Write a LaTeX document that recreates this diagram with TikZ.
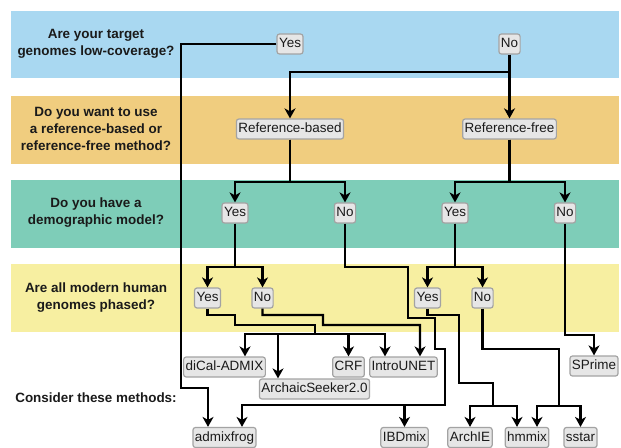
\documentclass[tikz,border=0pt]{standalone}
\usepackage{fontspec}
\setmainfont{Liberation Sans}
\usetikzlibrary{arrows.meta}
\definecolor{bandblue}{HTML}{A9D8F1}
\definecolor{bandorange}{HTML}{F0CD7F}
\definecolor{bandteal}{HTML}{7ECDB8}
\definecolor{bandyellow}{HTML}{F7EFA1}
\definecolor{boxfill}{HTML}{E6E6E6}
\definecolor{boxline}{HTML}{A3A3A3}
\definecolor{ink}{HTML}{1A1A1A}

\begin{document}
\begin{tikzpicture}[x=1bp,y=-1bp,
    opt/.style={draw=boxline,fill=boxfill,line width=1.2bp,rounded corners=2.5bp,
      inner xsep=2bp,inner ysep=0bp,minimum height=20bp,text height=9.8bp,text depth=2.8bp,
      font=\fontsize{13.5}{16}\selectfont,text=ink},
    question/.style={align=center,font=\fontsize{13.5}{17}\selectfont\bfseries,text=ink},
    wire/.style={line width=2.4bp},
    link/.style={wire,-{Stealth[length=10bp,width=11bp,inset=3bp]}}]
      \useasboundingbox (0,0) rectangle (621,448);
      \fill[bandblue] (11,11) rectangle (619,78);
      \fill[bandorange] (11,96) rectangle (619,164);
      \fill[bandteal] (11,180) rectangle (619,248);
      \fill[bandyellow] (11,264) rectangle (619,332);
      \node[question] (q1) at (96,44) {Are your target\\genomes low-coverage?};
      \node[question] (q2) at (96,129) {Do you want to use\\a reference-based or\\reference-free method?};
      \node[question] (q3) at (96,213) {Do you have a\\demographic model?};
      \node[question] (q4) at (96,298) {Are all modern human\\genomes phased?};
      \node[question] (q5) at (96,398) {Consider these methods:};
      \node[opt] (cy) at (290,44) {Yes};
      \node[opt] (cn) at (509.5,44) {No};
      \node[opt] (rb) at (290,129) {Reference-based};
      \node[opt] (rf) at (509.5,129) {Reference-free};
      \node[opt] (dy1) at (235,213) {Yes};
      \node[opt] (dn1) at (345,213) {No};
      \node[opt] (dy2) at (455,213) {Yes};
      \node[opt] (dn2) at (565,213) {No};
      \node[opt] (py1) at (207.5,298) {Yes};
      \node[opt] (pn1) at (262.5,298) {No};
      \node[opt] (py2) at (427.5,298) {Yes};
      \node[opt] (pn2) at (482.5,298) {No};
      \node[opt] (dical) at (224.5,367) {diCal-ADMIX};
      \node[opt] (seeker) at (314.5,389) {ArchaicSeeker2.0};
      \node[opt] (crf) at (348.5,367) {CRF};
      \node[opt] (unet) at (403.5,367) {IntroUNET};
      \node[opt] (sprime) at (594,366) {SPrime};
      \node[opt] (frog) at (224.5,437.5) {admixfrog};
      \node[opt] (ibd) at (404.5,437.5) {IBDmix};
      \node[opt] (archie) at (470,437.5) {ArchIE};
      \node[opt] (hmm) at (527,437.5) {hmmix};
      \node[opt] (sstar) at (580.5,437.5) {sstar};
      \draw[link] (cy.west) -| (181,388) -| ([xshift=-16.5bp]frog.north);
      \draw[link] (cn) -- (rf);
      \draw[link] (509.5,72) -| (rb);
      \draw[link] (rb) -- (290,182) -| (dy1);
      \draw[link] (rb) -- (290,182) -| (dn1);
      \draw[link] (rf) -- (509.5,182) -| (dy2);
      \draw[link] (rf) -- (509.5,182) -| (dn2);
      \draw[link] (dy1) -- (235,267) -| (py1);
      \draw[link] (dy1) -- (235,267) -| (pn1);
      \draw[link] (dy2) -- (455,267) -| (py2);
      \draw[link] (dy2) -- (455,267) -| (pn2);
      \draw[link] (dn1) |- (408,267) |- (435,318) |- (445,349) |- (323,405) -| ([xshift=17.5bp]frog.north);
      \draw[link] (323,405) -| (ibd);
      \draw[wire] (py1) |- (235,315) |- (315,325) -- (315,334);
      \draw[link] (315,334) -| ([xshift=20.5bp]dical.north);
      \draw[link] (315,334) -| ([xshift=-36.5bp]seeker.north);
      \draw[link] (315,334) -| (crf);
      \draw[link] (315,334) -| ([xshift=-18.5bp]unet.north);
      \draw[link] (pn1) |- (323,315) |- (420,325) -- ([xshift=16.5bp]unet.north);
      \draw[wire] (py2) |- (459,315) |- (493,383) -- (493,406);
      \draw[link] (493,406) -| (archie);
      \draw[link] (493,406) -| ([xshift=-10bp]hmm.north);
      \draw[wire] (pn2) |- (559,349) -- (559,406);
      \draw[link] (559,406) -| ([xshift=10bp]hmm.north);
      \draw[link] (559,406) -| (sstar);
      \draw[link] (dn2) |- (594,335) -- (sprime);
    \end{tikzpicture}
\end{document}
